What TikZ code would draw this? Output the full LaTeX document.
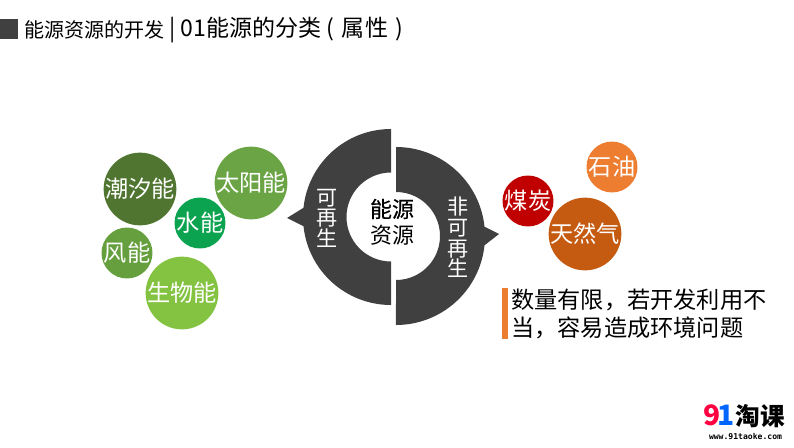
\documentclass[tikz,border=0pt]{standalone}
\usepackage{fontspec}
\setmainfont{Noto Sans CJK SC}
\newfontfamily\logomono{DejaVu Sans Mono}
\newfontfamily\halfbold[FakeBold=0.35]{Noto Sans CJK SC}

\definecolor{darkgray}{HTML}{404040}
\definecolor{tidegreen}{HTML}{4F7530}
\definecolor{sungreen}{HTML}{6BA445}
\definecolor{watergreen}{HTML}{0BA34F}
\definecolor{windgreen}{HTML}{659F3E}
\definecolor{biogreen}{HTML}{84C341}
\definecolor{oilorange}{HTML}{ED7D31}
\definecolor{coalred}{HTML}{C00000}
\definecolor{gasorange}{HTML}{C55A11}

\tikzset{
	bubble/.style={shape=circle,inner sep=0pt,text=white,font=\fontsize{13.2}{14}\selectfont},
	bigbubble/.style={bubble,minimum size=1.42cm},
	smallbubble/.style={bubble,minimum size=1cm},
	ringtext/.style={text=white,align=center,inner sep=0pt,font=\fontsize{12}{11.7}\selectfont},
}

\begin{document}
\begin{tikzpicture}
	\useasboundingbox (0,0) rectangle (15.88,8.94);

	% heading
	\fill[darkgray] (0,8.56) rectangle (0.36,8.16);
	\node[anchor=west,inner sep=0pt,font=\fontsize{11.4}{13}\selectfont] (heada) at (0.48,8.34) {能源资源的开发};
	\node[anchor=west,inner sep=0pt,font=\fontsize{13.1}{15}\selectfont] (headb) at (3.38,8.34) {| 01能源的分类 (\,\,属性\,\,)};

	% the two half rings
	\fill[darkgray] (7.82,6.36) arc (90:174:1.76) -- (5.74,4.58) -- (6.07,4.416) arc (186:270:1.76)
		-- (7.82,3.71) arc (270:90:0.89) -- cycle;
	\fill[darkgray] (7.92,6.00) arc (90:6:1.78) -- (9.98,4.26) -- (9.69,4.034) arc (-6:-90:1.78)
		-- (7.92,3.34) arc (-90:90:0.88) -- cycle;

	\node[ringtext] (renew) at (6.54,4.58) {可\\再\\生};
	\node[ringtext] (nonrenew) at (9.16,4.19) {非\\可\\再\\生};
	\node[inner sep=0pt,font=\fontsize{12.5}{14.8}\selectfont,align=center] (centre) at (7.84,4.50) {{\halfbold 能源}\\资源};

	% renewable
	\node[bigbubble,fill=tidegreen] (tide) at (2.80,5.16) {潮汐能};
	\node[bigbubble,fill=sungreen] (sun) at (5.02,5.28) {太阳能};
	\node[smallbubble,fill=watergreen] (water) at (4.00,4.48) {水能};
	\node[smallbubble,fill=windgreen] (wind) at (2.54,3.88) {风能};
	\node[bigbubble,fill=biogreen] (bio) at (3.64,3.08) {生物能};

	% non renewable
	\node[smallbubble,fill=oilorange] (oil) at (12.24,5.60) {石油};
	\node[smallbubble,fill=coalred] (coal) at (10.56,4.92) {煤炭};
	\node[bigbubble,fill=gasorange] (gas) at (11.70,4.26) {天然气};

	% note
	\fill[oilorange] (10.04,3.18) rectangle (10.16,2.16);
	\node[anchor=west,align=left,inner sep=0pt,font=\fontsize{13.2}{16.4}\selectfont] (note) at (10.22,2.66)
		{数量有限，若开发利用不\\当，容易造成环境问题};

	% logo
	\node[inner sep=0pt,text=red!75!magenta,font=\fontsize{16}{18}\selectfont\bfseries] (nine) at (14.25,0.64) {9};
	\node[inner sep=0pt,text=blue!60!cyan,font=\fontsize{16}{18}\selectfont\bfseries] (one) at (14.52,0.64) {1};
	\node[inner sep=0pt,font=\fontsize{14}{16}\selectfont\bfseries] (brand) at (15.21,0.62) {淘课};
	\node[inner sep=0pt,font=\fontsize{4.6}{6}\selectfont\logomono\bfseries] (url) at (14.91,0.22) {www.91taoke.com};
\end{tikzpicture}
\end{document}
